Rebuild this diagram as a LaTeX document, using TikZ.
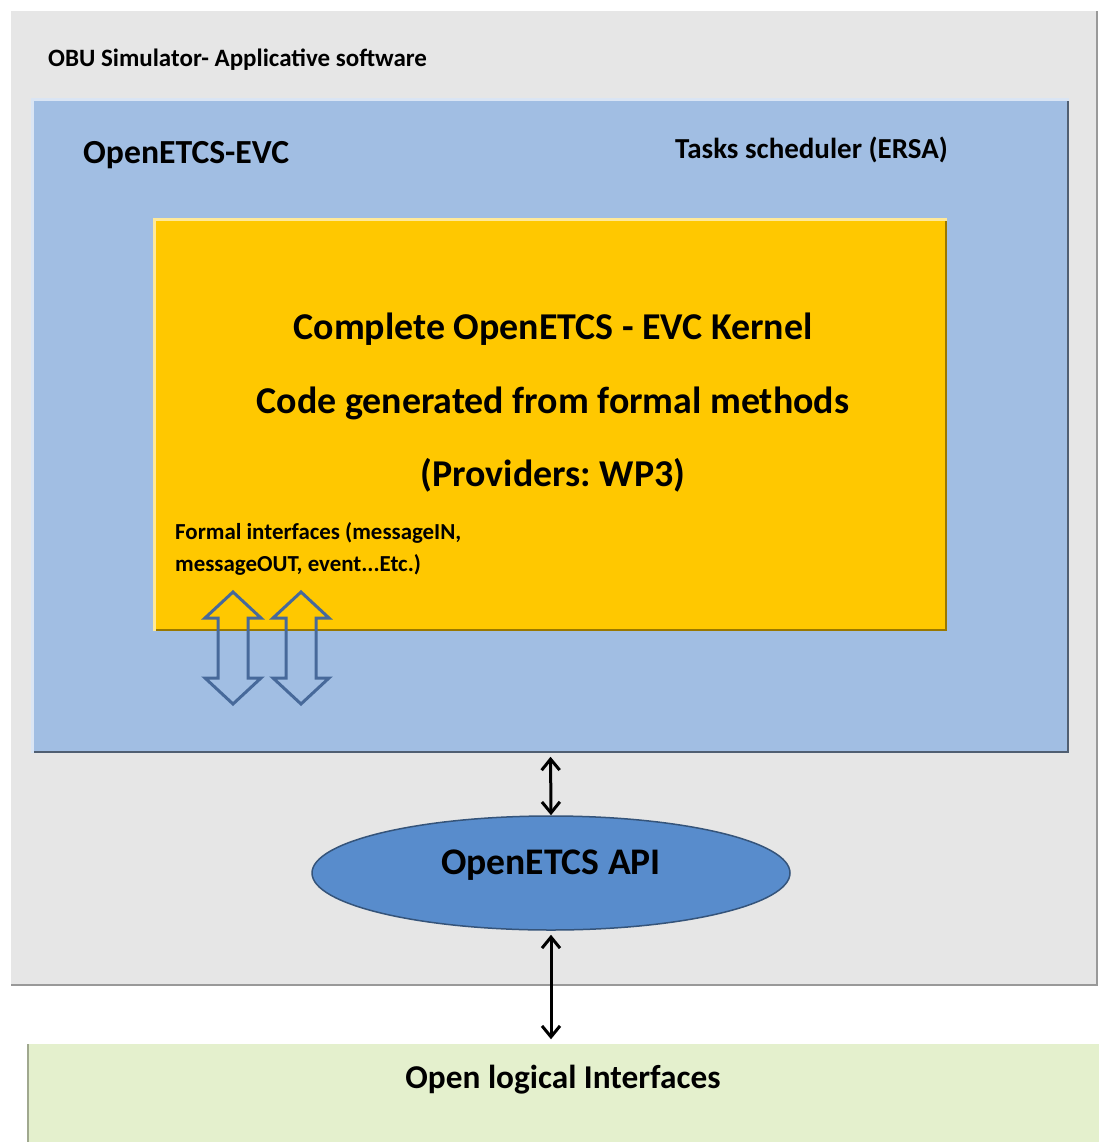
\documentclass[tikz,border=0pt]{standalone}
\usepackage{fontspec}
\setmainfont{Carlito}
\frenchspacing
\usetikzlibrary{arrows.meta,positioning,shapes.geometric}
\definecolor{simgray}{RGB}{230,230,230}
\definecolor{evcblue}{RGB}{161,190,227}
\definecolor{kernyellow}{RGB}{255,200,0}
\definecolor{apiblue}{RGB}{88,140,204}
\definecolor{oligreen}{RGB}{228,240,205}
\definecolor{ifcarrow}{RGB}{71,105,154}

\begin{document}
\begin{tikzpicture}
	 [x=1pt,y=1pt]
	 \tikzset{>={Straight Barb[length=11pt,width=18pt]}}
	\tikzstyle{box}=[rectangle,inner sep=0pt,line width=1.5pt]
	\tikzstyle{lite}=[line width=3pt,white!70!gray]
	\tikzstyle{label}=[inner sep=0pt,font=\bfseries]
	\tikzstyle{link}=[<->,line width=3pt,black]
	\tikzstyle{hollow}=[line width=3pt,draw=ifcarrow,line join=miter]
	\useasboundingbox (0,0) rectangle (1099.0 pt,-1142.0 pt);
	% boxes
	\node [box,fill=simgray,draw=gray!80] (obu) at (553.5 pt,-497.5 pt) [minimum width=1087pt,minimum height=975pt]{};
	\draw[lite,white] (obu.south west) -- (obu.north west) -- (obu.north east);
	\node [box,fill=evcblue,draw=evcblue!50!black] (evc) at (550.5 pt,-426.0 pt) [minimum width=1035pt,minimum height=652pt]{};
	\draw[lite,evcblue!40!white] (evc.south west) -- (evc.north west) -- (evc.north east);
	\node [box,fill=kernyellow,draw=kernyellow!60!black] (kern) at (550.5 pt,-425.0 pt) [minimum width=791pt,minimum height=410pt]{};
	\draw[lite,kernyellow!40!white] (kern.south west) -- (kern.north west) -- (kern.north east);
	\node [box,fill=oligreen,draw=oligreen!70!black] (oli) at (566.5 pt,-1096.5 pt) [minimum width=1077pt,minimum height=107pt]{};
	\draw[lite,white] (oli.north west) -- (oli.north east);
	\node [ellipse,fill=apiblue,draw=apiblue!60!black,line width=1.5pt,minimum width=478pt,minimum height=114pt,inner sep=0pt] (api) at (551.0 pt,-873.0 pt){};
	% texts
	\node [label,anchor=west,font=\bfseries\fontsize{25}{30}\selectfont] (tobu) at (48.0 pt,-60.0 pt){OBU Simulator- Applicative software};
	\node [label,anchor=west,font=\bfseries\fontsize{33.7}{40}\selectfont] (tevc) at (83.0 pt,-155.0 pt){OpenETCS-EVC};
	\node [label,anchor=east,font=\bfseries\fontsize{29}{35}\selectfont] (tersa) at (948.0 pt,-150.0 pt){Tasks scheduler (ERSA)};
	\node [label,align=center,font=\bfseries\fontsize{37.9}{73.5}\selectfont] (tkern) at (553.0 pt,-403.0 pt){Complete OpenETCS - EVC Kernel\\Code generated from formal methods\\(Providers: WP3)};
	\node [label,anchor=west,align=left,font=\bfseries\fontsize{22.9}{32}\selectfont] (tifc) at (175.0 pt,-549.0 pt){Formal interfaces (messageIN,\\messageOUT, event...Etc.)};
	\node [label,font=\bfseries\fontsize{37.6}{45}\selectfont] (tapi) at (551.0 pt,-865.0 pt){OpenETCS API};
	\node [label,font=\bfseries\fontsize{33.3}{40}\selectfont] (toli) at (563.0 pt,-1080.0 pt){Open logical Interfaces};
	% interface arrows
	\foreach \x/\n in {233/ia,301/ib}
	  \draw[hollow,shift={(\x pt,-648.0 pt)}] (0,56) -- (28,30) -- (15,30) -- (15,-30) -- (28,-30) -- (0,-56) -- (-28,-30) -- (-15,-30) -- (-15,30) -- (-28,30) -- cycle;
	% links
	\draw[link,shorten <=4pt] (evc.south) -- (api.north);
	\draw[link,shorten <=4pt,shorten >=3pt] (api.south) -- (api.south |- oli.north);
	\end{tikzpicture}
\end{document}
